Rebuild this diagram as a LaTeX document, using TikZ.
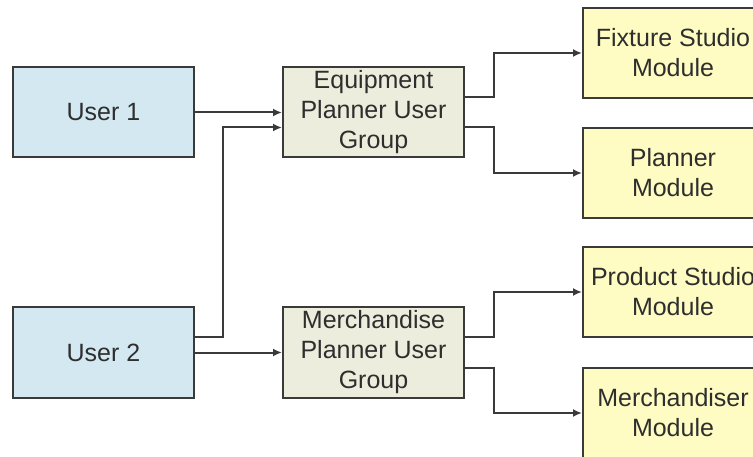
\documentclass[tikz,border=0pt]{standalone}
\usepackage{fontspec}
\setmainfont{Liberation Sans}
\usepackage{tikz}
\usetikzlibrary{arrows.meta}

\definecolor{userfill}{HTML}{D3E8F0}
\definecolor{groupfill}{HTML}{ECEDDC}
\definecolor{modfill}{HTML}{FEFCC2}
\definecolor{edge}{HTML}{3A3A3A}
\definecolor{ink}{HTML}{2E2E2E}

\tikzset{
  box/.style={draw=edge, line width=2pt, inner sep=0pt, align=center,
    text=ink, font=\fontsize{25}{30}\selectfont, minimum height=90pt},
  user box/.style={box, fill=userfill, minimum width=181pt},
  group box/.style={box, fill=groupfill, minimum width=181pt},
  module box/.style={box, fill=modfill, minimum width=180pt},
  arr/.style={draw=edge, line width=2pt, -{Latex[length=9pt,width=8pt]}}
}

\begin{document}
\begin{tikzpicture}[x=1pt, y=-1pt]
                \clip (0,0) rectangle (753,457);
                \fill[white] (0,0) rectangle (753,457);

                % Users
                \node[user box] (user1) at (103.5,112.5) {User 1};
                \node[user box] (user2) at (103.5,352.5) {User 2};

                % Groups
                \node[group box] (equip) at (373.5,112.5) {Equipment\\Planner User\\Group};
                \node[group box] (merch) at (373.5,352.5) {Merchandise\\Planner User\\Group};

                % Modules
                \node[module box] (fixture) at (673,53) {Fixture Studio\\Module};
                \node[module box] (planner) at (673,173) {Planner\\Module};
                \node[module box] (product) at (673,292) {Product Studio\\Module};
                \node[module box] (merchmod) at (673,413) {Merchandiser\\Module};

                % Users to groups
                \draw[arr] (user1.east) -- (equip.west);
                \draw[arr] ([yshift=15pt]user2.east) -- ++(28,0) |- ([yshift=-15pt]equip.west);
                \draw[arr] (user2.east) -- (merch.west);

                % Groups to modules
                \draw[arr] ([yshift=15pt]equip.east) -- ++(29,0) |- (fixture.west);
                \draw[arr] ([yshift=-15pt]equip.east) -- ++(29,0) |- (planner.west);
                \draw[arr] ([yshift=15pt]merch.east) -- ++(29,0) |- (product.west);
                \draw[arr] ([yshift=-15pt]merch.east) -- ++(29,0) |- (merchmod.west);
            \end{tikzpicture}
\end{document}
